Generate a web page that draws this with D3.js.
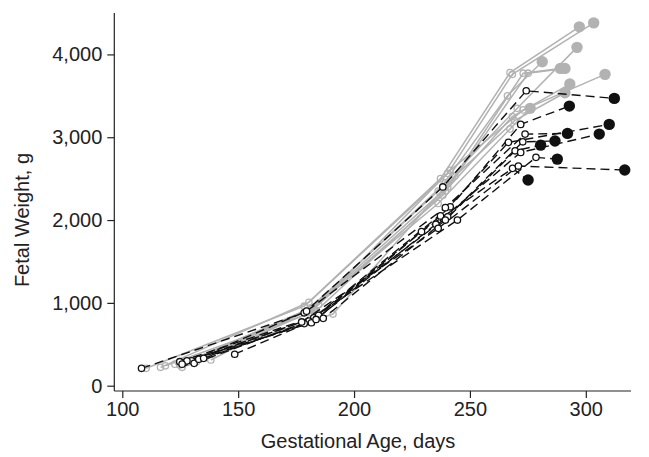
<!DOCTYPE html>
<html>
<head>
<meta charset="utf-8">
<script src="https://cdn.jsdelivr.net/npm/d3@7"></script>
<style>
  body { margin: 0; background: #fff; }
  text { font-family: "Liberation Sans", Arial, sans-serif; fill: #222; }
</style>
</head>
<body>
<script>
// each fetus: [day, grams] per ultrasound visit, last point = birth
var grayFetuses = [
    [[110.3, 210], [178.5, 960], [237.3, 2500], [267.3, 3780], [297.2, 4333]],
    [[116.5, 222], [180.5, 1007], [240.4, 2563], [268.3, 3760], [303.4, 4381]],
    [[124.8, 250], [181.6, 940], [239.4, 2450], [270.4, 3350], [296.2, 4085]],
    [[125.8, 222], [179.5, 900], [236.3, 2350], [266.2, 3500], [281.2, 3911]],
    [[128.9, 300], [182.6, 950], [240.4, 2400], [273.0, 3773], [289.0, 3831]],
    [[132.0, 290], [180.5, 880], [238.3, 2300], [275.1, 3773], [291.0, 3831]],
    [[138.2, 310], [184.7, 980], [241.5, 2600], [273.0, 3330], [308.3, 3759]],
    [[118.6, 240], [183.6, 900], [239.4, 2350], [268.3, 3250], [293.1, 3642]],
    [[122.7, 260], [190.9, 865], [243.5, 2531], [269.3, 3200], [291.0, 3537]],
    [[127.9, 280], [181.6, 920], [236.3, 2200], [267.3, 3100], [276.0, 3349]]
];

var blackFetuses = [
    [[108.3, 210], [178.5, 880], [238.3, 2400], [274.3, 3561], [312.3, 3469]],
    [[126.8, 280], [182.6, 820], [241.5, 2160], [271.9, 3155], [292.9, 3376]],
    [[129.9, 300], [179.5, 900], [239.4, 2150], [273.8, 3038], [292.1, 3046]],
    [[124.8, 290], [184.7, 850], [237.3, 2050], [266.6, 2938], [310.1, 3155]],
    [[131.0, 270], [180.5, 780], [240.4, 2040], [272.8, 2945], [286.7, 2954]],
    [[133.0, 320], [186.7, 813], [239.4, 2000], [269.5, 2836], [280.5, 2905]],
    [[127.9, 300], [181.6, 760], [235.3, 1950], [271.9, 2817], [305.8, 3038]],
    [[135.1, 330], [178.5, 750], [244.6, 2000], [278.5, 2757], [287.7, 2736]],
    [[148.5, 380], [183.6, 800], [229.1, 1860], [268.4, 2624], [275.1, 2483]],
    [[125.8, 260], [177.4, 770], [236.3, 1900], [270.9, 2652], [316.8, 2604]]
];

var xTicks = [100, 150, 200, 250, 300];
var yTicks = [0, 1000, 2000, 3000, 4000];

var width = 649, height = 457;

var svg = d3.select("body").append("svg")
    .attr("width", width)
    .attr("height", height);

var x = d3.scaleLinear().domain([96.55, 319.5]).range([114.3, 631]);
var y = d3.scaleLinear().domain([-64, 4500]).range([391, 13]);

var line = d3.line()
    .x(function(d) { return x(d[0]); })
    .y(function(d) { return y(d[1]); });

// gray group first, black dashed on top
var gray = "#b2b2b2";

svg.selectAll(".gline")
    .data(grayFetuses)
    .enter().append("path")
    .attr("d", line)
    .attr("fill", "none")
    .attr("stroke", gray)
    .attr("stroke-width", 1.5);

grayFetuses.forEach(function(f) {
    svg.selectAll(null)
        .data(f.slice(0, -1))
        .enter().append("circle")
        .attr("cx", function(d) { return x(d[0]); })
        .attr("cy", function(d) { return y(d[1]); })
        .attr("r", 3.2)
        .attr("fill", "none")
        .attr("stroke", gray)
        .attr("stroke-width", 1.3);
    var last = f[f.length - 1];
    svg.append("circle")
        .attr("cx", x(last[0]))
        .attr("cy", y(last[1]))
        .attr("r", 5.7)
        .attr("fill", gray);
});

svg.selectAll(".bline")
    .data(blackFetuses)
    .enter().append("path")
    .attr("d", line)
    .attr("fill", "none")
    .attr("stroke", "#111")
    .attr("stroke-width", 1.4)
    .attr("stroke-dasharray", "9,5");

blackFetuses.forEach(function(f) {
    svg.selectAll(null)
        .data(f.slice(0, -1))
        .enter().append("circle")
        .attr("cx", function(d) { return x(d[0]); })
        .attr("cy", function(d) { return y(d[1]); })
        .attr("r", 3.2)
        .attr("fill", "#fff")
        .attr("stroke", "#111")
        .attr("stroke-width", 1.3);
    var last = f[f.length - 1];
    svg.append("circle")
        .attr("cx", x(last[0]))
        .attr("cy", y(last[1]))
        .attr("r", 5.7)
        .attr("fill", "#111");
});

// axes
var xAxis = svg.append("g")
    .attr("transform", "translate(0,391)")
    .call(d3.axisBottom(x).tickValues(xTicks).tickSize(7).tickPadding(4).tickFormat(d3.format("d")));
var yAxis = svg.append("g")
    .attr("transform", "translate(114.3,0)")
    .call(d3.axisLeft(y).tickValues(yTicks).tickSize(7).tickPadding(5).tickFormat(d3.format(",")));

[xAxis, yAxis].forEach(function(a) {
    a.select(".domain").remove();
    a.selectAll(".tick line").attr("stroke", "#222").attr("stroke-width", 1.2);
    a.selectAll(".tick text").style("font-size", "20px").attr("fill", "#222");
});
svg.append("line").attr("x1", 114.3).attr("x2", 114.3).attr("y1", 13).attr("y2", 391)
    .attr("stroke", "#222").attr("stroke-width", 1.2);
svg.append("line").attr("x1", 114.3).attr("x2", 631).attr("y1", 391).attr("y2", 391)
    .attr("stroke", "#222").attr("stroke-width", 1.2);

svg.append("text")
    .attr("x", 358)
    .attr("y", 448)
    .attr("text-anchor", "middle")
    .style("font-size", "20px")
    .text("Gestational Age, days");

svg.append("text")
    .attr("transform", "translate(29," + y(2000) + ") rotate(-90)")
    .attr("text-anchor", "middle")
    .style("font-size", "20px")
    .text("Fetal Weight, g");
</script>
</body>
</html>
